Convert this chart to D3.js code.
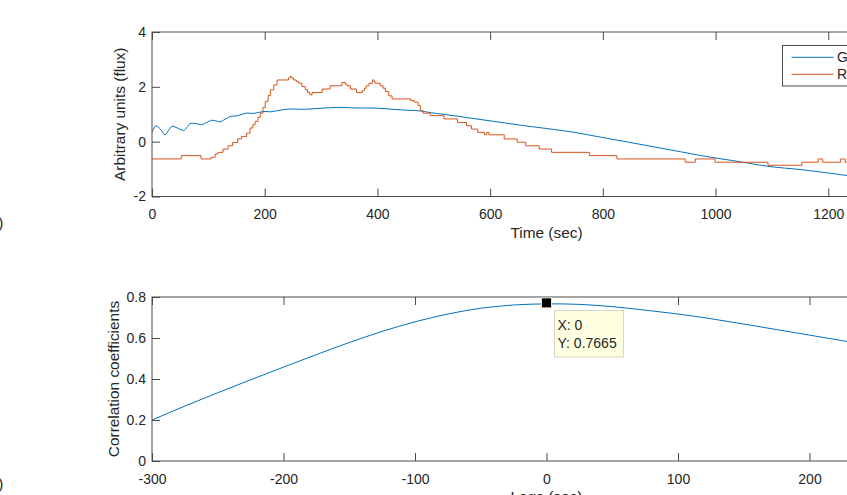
<!DOCTYPE html>
<html>
<head>
<meta charset="utf-8">
<script src="https://cdn.jsdelivr.net/npm/d3@7"></script>
<style>
  html, body { margin: 0; padding: 0; background: #fff; overflow: hidden; }
  svg { display: block; font-family: "Liberation Sans", Arial, Helvetica, sans-serif; }
</style>
</head>
<body>
<svg id="fig" width="847" height="495"></svg>
<script>
// ---- Panel (a): fluorescence traces ----
const timeTicks = [0, 200, 400, 600, 800, 1000, 1200, 1400];
const fluxTicks = [-2, 0, 2, 4];

// green channel trace: [time (s), flux]
const greenTrace = [
  [0, 0.34], [7, 0.58], [15, 0.45], [23, 0.25], [29, 0.40], [35, 0.56], [45, 0.50],
  [56, 0.41], [62, 0.52], [67, 0.65], [78, 0.66], [88, 0.62], [97, 0.70], [106, 0.78],
  [113, 0.76], [120, 0.72], [130, 0.82], [139, 0.92], [150, 0.94], [160, 1.00],
  [168, 1.04], [180, 1.03], [198, 1.10], [210, 1.09], [222, 1.13], [242, 1.19],
  [270, 1.18], [300, 1.22], [334, 1.25], [360, 1.23], [399, 1.22], [441, 1.16],
  [476, 1.12], [494, 1.06], [520, 0.99], [565, 0.86], [610, 0.73], [654, 0.60],
  [700, 0.48], [743, 0.36], [800, 0.15], [859, -0.07], [920, -0.30], [992, -0.57],
  [1040, -0.72], [1093, -0.90], [1152, -1.02], [1199, -1.14], [1236, -1.24], [1260, -1.28]
];

// red channel trace (held values): [time (s), flux]
const redTrace = [
  [0, -0.63], [52, -0.51], [87, -0.63], [105, -0.57], [112, -0.45], [117, -0.39],
  [126, -0.27], [135, -0.15], [143, -0.03], [152, 0.10], [159, 0.19], [168, 0.31],
  [174, 0.50], [179, 0.62], [183, 0.74], [188, 0.89], [192, 1.04], [197, 1.25],
  [201, 1.47], [206, 1.68], [210, 1.89], [216, 2.07], [222, 2.25], [242, 2.32],
  [245, 2.38], [248, 2.32], [251, 2.25], [256, 2.19], [260, 2.13], [266, 2.01],
  [272, 1.89], [276, 1.80], [280, 1.71], [284, 1.79], [302, 1.92], [316, 2.04],
  [337, 2.16], [343, 2.10], [346, 2.04], [352, 1.92], [363, 1.79], [373, 1.86],
  [377, 1.95], [380, 2.04], [385, 2.13], [391, 2.25], [394, 2.19], [396, 2.13],
  [405, 2.04], [410, 1.95], [414, 1.83], [420, 1.67], [426, 1.56], [459, 1.50],
  [465, 1.44], [472, 1.32], [476, 1.14], [481, 1.04], [494, 0.95], [518, 0.83],
  [542, 0.70], [558, 0.58], [567, 0.46], [578, 0.34], [590, 0.25], [594, 0.34],
  [598, 0.25], [625, 0.10], [648, -0.02], [663, -0.15], [687, -0.27], [709, -0.39],
  [776, -0.51], [825, -0.63], [946, -0.75], [964, -0.63], [999, -0.75], [1093, -0.86],
  [1153, -0.75], [1182, -0.63], [1190, -0.75], [1222, -0.63], [1230, -0.75], [1260, -0.75]
];

const legendNames = ["Green", "Red"];

// ---- Panel (b): cross-correlation ----
const lagTicks = [-300, -200, -100, 0, 100, 200, 300];
const corrTicks = [0, 0.2, 0.4, 0.6, 0.8];
const lags = [-300, -275, -250, -225, -200, -175, -150, -125, -100, -75, -50, -25, 0,
              25, 50, 75, 100, 125, 150, 175, 200, 225, 250, 275, 300];
const corrCoef = [0.200, 0.268, 0.333, 0.396, 0.458, 0.519, 0.578, 0.632, 0.679, 0.717,
                  0.745, 0.761, 0.7665, 0.764, 0.753, 0.736, 0.717, 0.694, 0.668, 0.641,
                  0.614, 0.587, 0.560, 0.533, 0.505];
const peakLag = 0, peakCorr = 0.7665;

// ---- drawing ----
const svg = d3.select("#fig");
const axisColor = "#4a4a4a";
const textColor = "#262626";
const blue = "#0072BD", orange = "#D95319";
const tickLen = 8;

// plain hyphen-minus tick labels
const intFmt = d => String(d);
const decFmt = d => (d === 0 ? "0" : d.toFixed(1));

function drawBox(g, x, y, xTicks, yTicks, xFmt, yFmt) {
  const [x0, x1] = x.range();
  const [y1, y0] = y.range();
  // inward ticks on all four sides
  g.append("g").call(d3.axisBottom(x).tickValues(xTicks).tickSize(-tickLen).tickPadding(13).tickFormat(xFmt))
    .attr("transform", `translate(0,${y1})`);
  g.append("g").call(d3.axisTop(x).tickValues(xTicks).tickSize(-tickLen).tickFormat(""))
    .attr("transform", `translate(0,${y0})`);
  g.append("g").call(d3.axisLeft(y).tickValues(yTicks).tickSize(-tickLen).tickPadding(6).tickFormat(yFmt))
    .attr("transform", `translate(${x0},0)`);
  g.append("g").call(d3.axisRight(y).tickValues(yTicks).tickSize(-tickLen).tickFormat(""))
    .attr("transform", `translate(${x1},0)`);
  g.selectAll(".domain").remove();
  g.selectAll(".tick line").attr("stroke", axisColor);
  g.selectAll(".tick text").attr("fill", textColor).attr("font-size", 14)
    .attr("font-family", "Liberation Sans, Arial, sans-serif");
  g.append("rect")
    .attr("x", x0).attr("y", y0).attr("width", x1 - x0).attr("height", y1 - y0)
    .attr("fill", "none").attr("stroke", axisColor).attr("stroke-width", 1);
}

// panel (a)
const xa = d3.scaleLinear().domain([0, 1400]).range([152, 941]);
const ya = d3.scaleLinear().domain([-2, 4]).range([196.5, 32]);
const ga = svg.append("g");
svg.append("defs").append("clipPath").attr("id", "clipA")
  .append("rect").attr("x", 152).attr("y", 32).attr("width", 789).attr("height", 164.5);

const plotA = ga.append("g").attr("clip-path", "url(#clipA)");
plotA.append("path").datum(greenTrace)
  .attr("fill", "none").attr("stroke", blue).attr("stroke-width", 1)
  .attr("d", d3.line().x(d => xa(d[0])).y(d => ya(d[1])).curve(d3.curveCatmullRom));
plotA.append("path").datum(redTrace)
  .attr("fill", "none").attr("stroke", orange).attr("stroke-width", 1)
  .attr("d", d3.line().x(d => xa(d[0])).y(d => ya(d[1])).curve(d3.curveStepAfter));

drawBox(ga, xa, ya, timeTicks, fluxTicks, intFmt, intFmt);

ga.append("text").attr("x", (152 + 941) / 2).attr("y", 238)
  .attr("text-anchor", "middle").attr("font-size", 15.4).attr("fill", textColor)
  .text("Time (sec)");
ga.append("text").attr("transform", `translate(124.5,${(32 + 196.5) / 2}) rotate(-90)`)
  .attr("text-anchor", "middle").attr("font-size", 15.4).attr("fill", textColor)
  .text("Arbitrary units (flux)");

// legend
const lg = ga.append("g");
lg.append("rect").attr("x", 782.5).attr("y", 45.5).attr("width", 120).attr("height", 40.5)
  .attr("fill", "#fff").attr("stroke", axisColor).attr("stroke-width", 1);
[blue, orange].forEach((c, i) => {
  const yy = 57.3 + i * 17;
  lg.append("line").attr("x1", 791.5).attr("x2", 833.5).attr("y1", yy).attr("y2", yy)
    .attr("stroke", c).attr("stroke-width", 1);
  lg.append("text").attr("x", 837).attr("y", yy + 5).attr("font-size", 14)
    .attr("fill", textColor).text(legendNames[i]);
});

// panel (b)
const xb = d3.scaleLinear().domain([-300, 300]).range([152, 941]);
const yb = d3.scaleLinear().domain([0, 0.8]).range([461, 297]);
const gb = svg.append("g");
svg.select("defs").append("clipPath").attr("id", "clipB")
  .append("rect").attr("x", 152).attr("y", 297).attr("width", 789).attr("height", 164);

gb.append("g").attr("clip-path", "url(#clipB)")
  .append("path").datum(lags.map((l, i) => [l, corrCoef[i]]))
  .attr("fill", "none").attr("stroke", blue).attr("stroke-width", 1)
  .attr("d", d3.line().x(d => xb(d[0])).y(d => yb(d[1])).curve(d3.curveNatural));

drawBox(gb, xb, yb, lagTicks, corrTicks, intFmt, decFmt);

gb.append("text").attr("x", (152 + 941) / 2).attr("y", 501.5)
  .attr("text-anchor", "middle").attr("font-size", 15.4).attr("fill", textColor)
  .text("Lags (sec)");
gb.append("text").attr("transform", `translate(119,${(297 + 461) / 2}) rotate(-90)`)
  .attr("text-anchor", "middle").attr("font-size", 15.4).attr("fill", textColor)
  .text("Correlation coefficients");

// data tip at the correlation peak
const px = xb(peakLag), py = yb(peakCorr);
gb.append("rect").attr("x", px - 5).attr("y", py - 6).attr("width", 10).attr("height", 10)
  .attr("fill", "#000").attr("stroke", "#e8e4c8").attr("stroke-width", 1);
const tip = gb.append("g");
tip.append("rect").attr("x", 554.5).attr("y", 310.5).attr("width", 69).attr("height", 46.5)
  .attr("fill", "#ffffe1").attr("stroke", "#d6d6c8").attr("stroke-width", 1);
tip.append("text").attr("x", 557.5).attr("y", 330).attr("font-size", 14).attr("fill", textColor)
  .text(`X: ${peakLag}`);
tip.append("text").attr("x", 557.5).attr("y", 348).attr("font-size", 14).attr("fill", textColor)
  .text(`Y: ${peakCorr}`);

// panel letters
svg.append("text").attr("x", 3.5).attr("y", 228).attr("text-anchor", "end")
  .attr("font-size", 15.4).attr("fill", textColor).text("(a)");
svg.append("text").attr("x", 3.5).attr("y", 489).attr("text-anchor", "end")
  .attr("font-size", 15.4).attr("fill", textColor).text("(b)");
</script>
</body>
</html>
